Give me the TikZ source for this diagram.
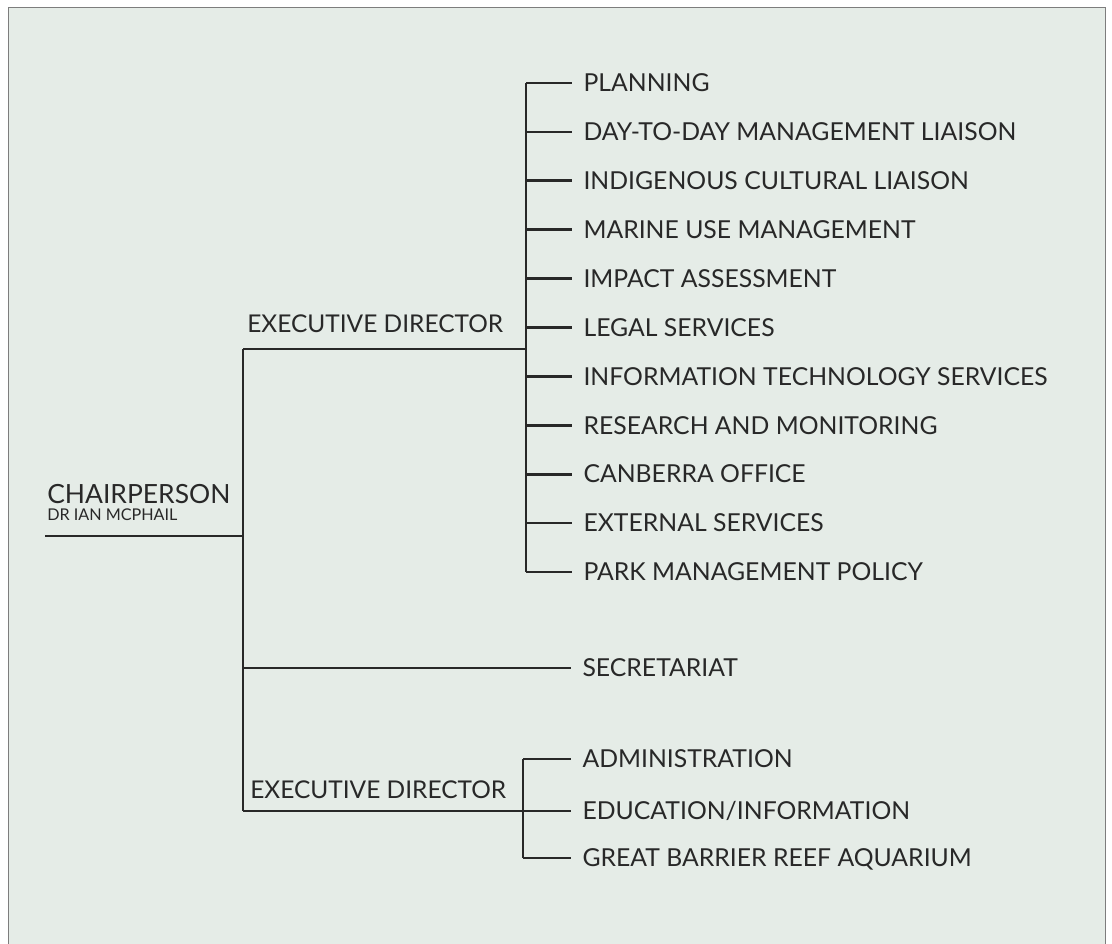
\documentclass[tikz,border=0pt]{standalone}
\usepackage{fontspec}
\setmainfont{Lato}
\usetikzlibrary{positioning}
\definecolor{paper}{RGB}{229, 236, 231}
\definecolor{ink}{RGB}{40, 40, 40}
\definecolor{rule}{RGB}{125, 125, 125}

\begin{document}
\begin{tikzpicture}[
        x=0.025cm, y=-0.025cm,
        unit/.style={
            anchor=west,
            inner xsep=8pt,
            inner ysep=0pt,
            text height=12.4pt,
            text depth=0pt,
            text=ink,
            font=\fontsize{17.6}{20}\selectfont
        },
        head/.style={
            anchor=base west,
            inner sep=0pt,
            text=ink,
            font=\fontsize{17.4}{20}\selectfont
        },
        link/.style={draw=ink, line width=1.9pt}
    ]

    % page
    \useasboundingbox (0,0) rectangle (1112,944);
    \fill[white] (0,0) rectangle (1112,944);
    \fill[paper] (8,7) rectangle (1105,944);
    \draw[rule, line width=0.6pt] (8,944) -- (8,7) -- (1105,7) -- (1105,944);

    % chairperson
    \node[head, font=\fontsize{18.8}{22}\selectfont] (chair) at (47,503) {CHAIRPERSON};
    \node[head, font=\fontsize{11.5}{13}\selectfont] (chairname) at (47,521) {DR IAN MCPHAIL};
    \coordinate (chairline) at (45,536);
    \coordinate (spine) at (243,349);
    \coordinate (spine end) at (243,811);

    % first executive director
    \node[head] (exec1) at (247,333) {EXECUTIVE DIRECTOR};
    \coordinate (trunk1) at (526,349);

    \foreach \name/\label [count=\i from 0] in {
            plan/PLANNING,
            daily/DAY-TO-DAY MANAGEMENT LIAISON,
            indig/INDIGENOUS CULTURAL LIAISON,
            marine/MARINE USE MANAGEMENT,
            impact/IMPACT ASSESSMENT,
            legal/LEGAL SERVICES,
            infotech/INFORMATION TECHNOLOGY SERVICES,
            research/RESEARCH AND MONITORING,
            canberra/CANBERRA OFFICE,
            external/EXTERNAL SERVICES,
            park/PARK MANAGEMENT POLICY}
        \node[unit] (\name) at (572,83+48.9*\i) {\label};

    \foreach \name in {plan,daily,indig,marine,impact,legal,infotech,research,canberra,external,park}
        \draw[link] (\name.west -| trunk1) -- (\name.west);
    \draw[link] (plan.west -| trunk1) -- (park.west -| trunk1);

    % secretariat
    \node[unit] (secretariat) at (571,668) {SECRETARIAT};

    % second executive director
    \node[head] (exec2) at (250,798) {EXECUTIVE DIRECTOR};
    \node[unit] (admin) at (571,759) {ADMINISTRATION};
    \node[unit] (edu) at (571,811) {EDUCATION/INFORMATION};
    \node[unit] (aquarium) at (571,858) {GREAT BARRIER REEF AQUARIUM};
    \coordinate (trunk2) at (523,811);

    \foreach \name in {admin,edu,aquarium}
        \draw[link] (\name.west -| trunk2) -- (\name.west);
    \draw[link] (admin.west -| trunk2) -- (aquarium.west -| trunk2);

    % spine and its branches
    \draw[link] (chairline) -- (chairline -| spine);
    \draw[link] (spine) -- (spine end);
    \draw[link] (spine) -- (trunk1);
    \draw[link] (secretariat.west -| spine) -- (secretariat.west);
    \draw[link] (spine end) -- (trunk2);
\end{tikzpicture}
\end{document}
